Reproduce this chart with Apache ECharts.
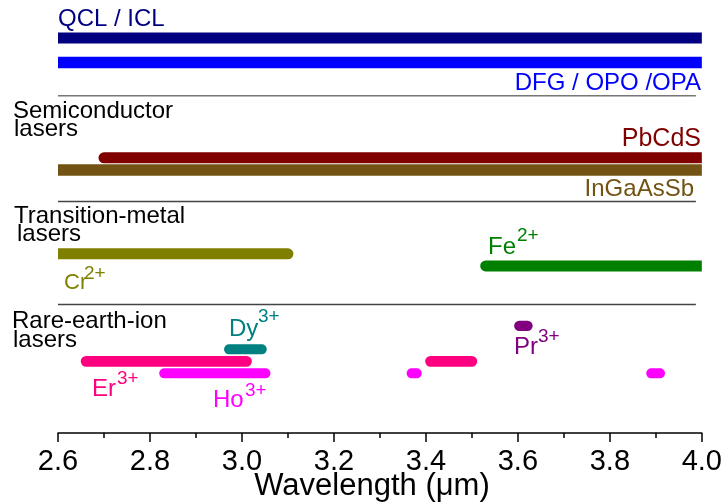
<!DOCTYPE html>
<html>
<head>
<meta charset="utf-8">
<script src="https://cdn.jsdelivr.net/npm/echarts@6/dist/echarts.min.js"></script>
<style>
html,body{margin:0;padding:0;background:#fff;}
#chart{width:725px;height:504px;}
</style>
</head>
<body>
<div id="chart"></div>
<script>
// ---- data ----
const barNames  = ['QCL / ICL','DFG / OPO /OPA','PbCdS','InGaAsSb','Cr2+','Fe2+','Pr3+','Dy3+','Er3+','Er3+ (b)','Ho3+','Ho3+ (b)','Ho3+ (c)'];
const barStart  = [2.60, 2.60, 2.70, 2.60, 2.60, 3.53, 3.603, 2.972, 2.661, 3.410, 2.831, 3.369, 3.890];
const barEnd    = [4.00, 4.00, 4.00, 4.00, 3.10, 4.00, 3.621, 3.043, 3.010, 3.500, 3.051, 3.380, 3.909];
const barLane   = [3.08, 5.13, 13.07, 14.08, 21.07, 22.08, 27.07, 29.03, 30.03, 30.03, 31.03, 31.03, 31.03];
const separatorLanes = [7.9, 16.7, 25.3];
const separatorRange = [2.6, 3.987];
const xTicks = [2.6, 2.8, 3.0, 3.2, 3.4, 3.6, 3.8, 4.0];
const xMin = xTicks[0], xMax = xTicks[xTicks.length - 1];

// ---- styles ----
const barColors = ['#000080','#0000ff','#800000','#735314','#808000','#008000','#800080','#008080','#ff0080','#ff0080','#ff00ff','#ff00ff','#ff00ff'];
const barWidths = [11, 11.5, 11, 11.4, 11, 11, 10.3, 10, 10.7, 10.7, 10, 10, 10];
const FONT = "'Liberation Sans', Arial, sans-serif";

const series = [];
series.push({
  name: 'bars', type: 'custom', silent: true, z: 3,
  encode: { x: [0, 1], y: 2 },
  data: barStart.map((s, i) => [s, barEnd[i], barLane[i], i]),
  renderItem: function (params, api) {
    const i = api.value(3);
    const s = api.coord([api.value(0), api.value(2)]);
    const e = api.coord([api.value(1), api.value(2)]);
    const h = barWidths[i], r = h / 2;
    const rl = api.value(0) > xMin, rr = api.value(1) < xMax;
    const x0 = s[0] - (rl ? r : 0), x1 = e[0] + (rr ? r : 0);
    return {
      type: 'rect',
      shape: { x: x0, y: s[1] - r, width: x1 - x0, height: h, r: [rl ? r : 0, rr ? r : 0, rr ? r : 0, rl ? r : 0] },
      style: { fill: barColors[i] }
    };
  }
});
separatorLanes.forEach((l, i) => {
  series.push({
    name: 'sep' + i, type: 'line', symbol: 'none', silent: true,
    data: [[separatorRange[0], l], [separatorRange[1], l]],
    lineStyle: { color: i === 0 ? '#777' : '#444', width: 1.5 },
    z: 2
  });
});

function txt(text, x, y, size, color, align) {
  return { type: 'text', x: x, y: y, style: { text: text, font: size + 'px ' + FONT, fill: color, textAlign: align || 'left', textVerticalAlign: 'middle' }, z: 10 };
}

const graphics = [
  txt('QCL / ICL', 58, 19, 24, '#000080'),
  txt('DFG / OPO /OPA', 701, 83, 24, '#0000ff', 'right'),
  txt('Semiconductor', 13, 111, 24, '#000'),
  txt('lasers', 14, 129, 24, '#000'),
  txt('PbCdS', 701, 139, 25, '#800000', 'right'),
  txt('InGaAsSb', 694, 189, 24, '#735314', 'right'),
  txt('Transition-metal', 14, 216, 24, '#000'),
  txt('lasers', 17, 234, 24, '#000'),
  txt('Cr', 64, 283, 22, '#808000'),
  txt('2+', 84, 274, 19, '#808000'),
  txt('Fe', 488, 247, 24, '#008000'),
  txt('2+', 517, 236, 19, '#008000'),
  txt('Rare-earth-ion', 12, 321, 24, '#000'),
  txt('lasers', 13, 340, 24, '#000'),
  txt('Dy', 229, 329, 24, '#008080'),
  txt('3+', 258, 317, 19, '#008080'),
  txt('Pr', 514, 347, 24, '#800080'),
  txt('3+', 538, 337, 19, '#800080'),
  txt('Er', 92, 389, 24, '#ff0080'),
  txt('3+', 117, 379, 19, '#ff0080'),
  txt('Ho', 213, 400, 24, '#ff00ff'),
  txt('3+', 245, 391, 19, '#ff00ff'),
  txt('Wavelength (\u03bcm)', 372, 486, 31, '#000', 'center')
];

const chart = echarts.init(document.getElementById('chart'), null, { renderer: 'canvas' });
chart.setOption({
  animation: false,
  backgroundColor: '#fff',
  grid: { left: 58, right: 22, top: 1, height: 432, containLabel: false },
  xAxis: {
    type: 'value', min: xMin, max: xMax, interval: 0.2,
    axisLine: { show: true, onZero: false, lineStyle: { color: '#000', width: 1.5 } },
    axisTick: { show: true, inside: false, length: 9, lineStyle: { color: '#000', width: 1.5 } },
    minorTick: { show: true, splitNumber: 2, length: 5, lineStyle: { color: '#000', width: 1.5 } },
    splitLine: { show: false },
    axisLabel: { fontSize: 29, fontFamily: FONT, color: '#000', margin: 14, formatter: v => v.toFixed(1) }
  },
  yAxis: { type: 'value', inverse: true, min: 0, max: 36, show: false, splitLine: { show: false } },
  series: series,
  graphic: graphics
});
</script>
</body>
</html>
